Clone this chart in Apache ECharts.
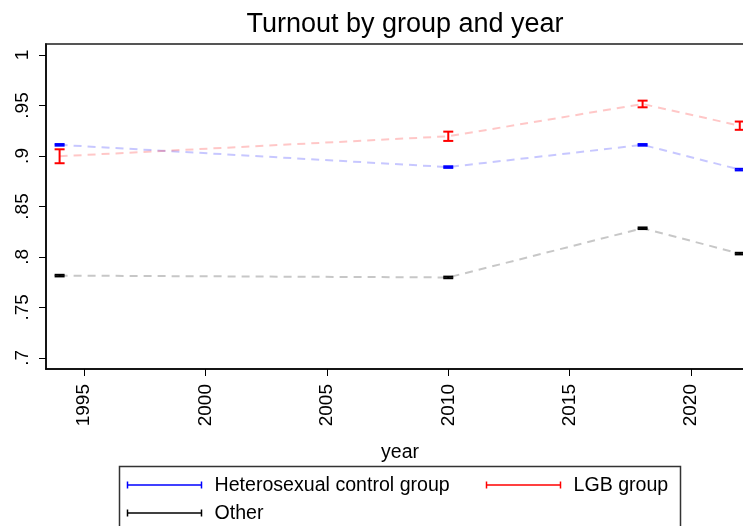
<!DOCTYPE html>
<html>
<head>
<meta charset="utf-8">
<script src="https://cdn.jsdelivr.net/npm/echarts@6/dist/echarts.min.js"></script>
<style>html,body{margin:0;padding:0;background:#fff}#c{width:743px;height:526px}</style>
</head>
<body>
<div id="c"></div>
<script>
const years = [1994, 2010, 2018, 2022];
const heteroMean = [0.911, 0.889, 0.911, 0.8865];
const heteroLo = [0.9102, 0.8882, 0.9102, 0.8857];
const heteroHi = [0.9118, 0.8898, 0.9118, 0.8873];
const lgbMean = [0.8997, 0.9195, 0.9515, 0.930];
const lgbLo = [0.8928, 0.9149, 0.9482, 0.9259];
const lgbHi = [0.9066, 0.9241, 0.9548, 0.9341];
const otherMean = [0.7815, 0.7797, 0.8284, 0.8033];
const otherLo = [0.7807, 0.7789, 0.8276, 0.8025];
const otherHi = [0.7823, 0.7805, 0.8292, 0.8041];
const xTicks = [1995, 2000, 2005, 2010, 2015, 2020];
const yTicks = [0.7, 0.75, 0.8, 0.85, 0.9, 0.95, 1];
const seriesNames = ['Heterosexual control group', 'LGB group', 'Other'];

const FONT = '"Liberation Sans", Arial, sans-serif';
const chart = echarts.init(document.getElementById('c'), null, {renderer: 'canvas'});

function lineSeries(name, means, color) {
  return {
    name: name, type: 'line', data: years.map((y, i) => [y, means[i]]),
    symbol: 'none', silent: true, z: 1,
    lineStyle: {color: color, width: 2, type: [8, 6]}
  };
}
function errSeries(name, lo, hi, color) {
  return {
    name: name, type: 'custom', z: 3, silent: true,
    data: years.map((y, i) => [y, lo[i], hi[i]]),
    renderItem: function (params, api) {
      const x = api.value(0);
      const p1 = api.coord([x, api.value(1)]);
      const p2 = api.coord([x, api.value(2)]);
      const hw = 5;
      const st = {stroke: color, lineWidth: 2};
      return {type: 'group', children: [
        {type: 'line', shape: {x1: p1[0], y1: p1[1], x2: p2[0], y2: p2[1]}, style: st},
        {type: 'line', shape: {x1: p1[0] - hw, y1: p1[1], x2: p1[0] + hw, y2: p1[1]}, style: st},
        {type: 'line', shape: {x1: p2[0] - hw, y1: p2[1], x2: p2[0] + hw, y2: p2[1]}, style: st}
      ]};
    }
  };
}

function legendItem(x, y, color, text) {
  return [
    {type: 'line', shape: {x1: x, y1: y, x2: x + 74, y2: y}, style: {stroke: color, lineWidth: 1.5}},
    {type: 'line', shape: {x1: x, y1: y - 3.5, x2: x, y2: y + 3.5}, style: {stroke: color, lineWidth: 1.5}},
    {type: 'line', shape: {x1: x + 74, y1: y - 3.5, x2: x + 74, y2: y + 3.5}, style: {stroke: color, lineWidth: 1.5}},
    {type: 'text', x: x + 87, y: y + 1, style: {text: text, font: '19.6px ' + FONT, fill: '#000', textVerticalAlign: 'middle'}}
  ];
}

const option = {
  animation: false,
  backgroundColor: '#fff',
  title: {
    text: 'Turnout by group and year', left: 400, top: 6, textAlign: 'center',
    textStyle: {fontFamily: FONT, fontSize: 27, fontWeight: 'normal', color: '#000'}
  },
  grid: {left: 46, top: 44, right: -23, height: 325, show: true, borderColor: '#555', borderWidth: 2,
    containLabel: false, outerBoundsMode: 'none'},
  xAxis: {
    type: 'value', min: 1993.44, max: 2023.08,
    name: 'year', nameLocation: 'middle', nameGap: 74,
    nameTextStyle: {fontFamily: FONT, fontSize: 19.5, color: '#000', padding: [0, 12, 0, 0]},
    axisLine: {show: true, lineStyle: {color: '#000', width: 1.5}},
    axisTick: {show: true, length: 7, customValues: xTicks, lineStyle: {color: '#000', width: 1}},
    axisLabel: {customValues: xTicks, rotate: 90, margin: 15, fontFamily: FONT, fontSize: 19, color: '#000',
      formatter: v => String(Math.round(v))},
    splitLine: {show: false}
  },
  yAxis: {
    type: 'value', min: 0.689, max: 1.0109,
    axisLine: {show: true, lineStyle: {color: '#000', width: 1.5}},
    axisTick: {show: true, length: 7, customValues: yTicks, lineStyle: {color: '#000', width: 1}},
    axisLabel: {
      customValues: yTicks, rotate: 90, margin: 14, fontFamily: FONT, fontSize: 19, color: '#000',
      formatter: v => (Math.abs(v - 1) < 1e-9 ? '1' : v.toFixed(2).replace(/0$/, '').replace(/^0/, ''))
    },
    splitLine: {show: false}
  },
  series: [
    lineSeries(seriesNames[0], heteroMean, 'rgba(0,0,255,0.22)'),
    lineSeries(seriesNames[1], lgbMean, 'rgba(255,0,0,0.22)'),
    lineSeries(seriesNames[2], otherMean, 'rgba(0,0,0,0.22)'),
    errSeries(seriesNames[0], heteroLo, heteroHi, '#0000ff'),
    errSeries(seriesNames[1], lgbLo, lgbHi, '#ff0000'),
    errSeries(seriesNames[2], otherLo, otherHi, '#000000')
  ],
  graphic: [{
    type: 'group', children: [
      {type: 'rect', shape: {x: 119.5, y: 466.5, width: 561, height: 80}, style: {fill: '#fff', stroke: '#333', lineWidth: 1.5}},
      ...legendItem(127.5, 485, '#0000ff', seriesNames[0]),
      ...legendItem(486.5, 485, '#ff0000', seriesNames[1]),
      ...legendItem(127.5, 513, '#000000', seriesNames[2])
    ]
  }]
};
chart.setOption(option);
</script>
</body>
</html>
